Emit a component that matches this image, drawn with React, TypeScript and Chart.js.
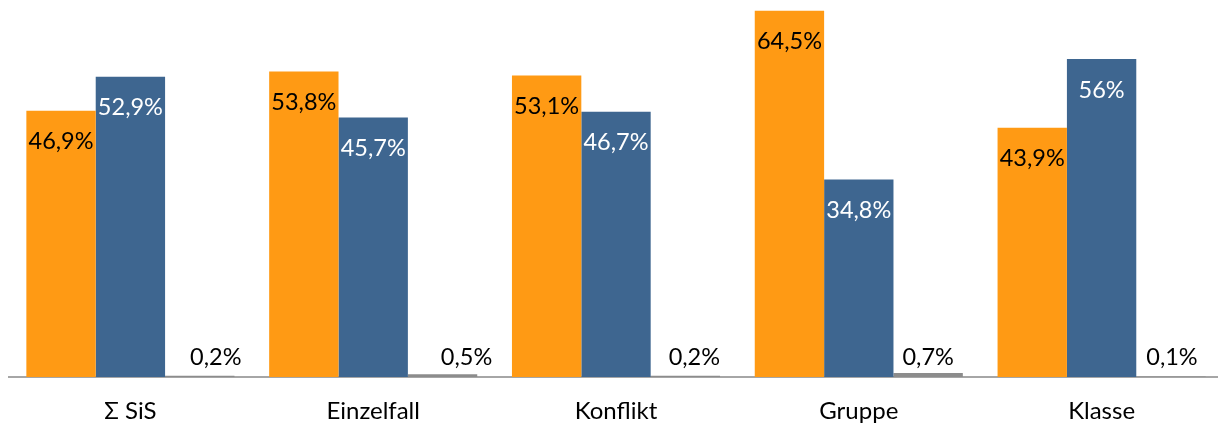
import React, { useEffect, useRef } from "react";
import { Chart, registerables } from "chart.js";

Chart.register(...registerables);

const categories = ["Σ SiS", "Einzelfall", "Konflikt", "Gruppe", "Klasse"];
const seriesA = [46.9, 53.8, 53.1, 64.5, 43.9];
const seriesB = [52.9, 45.7, 46.7, 34.8, 56];
const seriesC = [0.2, 0.5, 0.2, 0.7, 0.1];

// horizontal nudges of the small third-series labels, as placed in the original
const smallLabelNudge = [16, 24, 9, 0, 1];

const FONT = "Lato, 'Open Sans', sans-serif";

const labelPlugin = {
  id: "valueLabels",
  afterDatasetsDraw(chart: any) {
    const ctx = chart.ctx;
    ctx.save();
    ctx.font = `23.5px ${FONT}`;
    ctx.textAlign = "center";
    ctx.textBaseline = "middle";
    chart.data.datasets.forEach((ds: any, di: number) => {
      const meta = chart.getDatasetMeta(di);
      meta.data.forEach((bar: any, i: number) => {
        const v = ds.data[i];
        const txt = String(v).replace(".", ",") + "%";
        if (di === 2) {
          ctx.fillStyle = "#000000";
          ctx.fillText(txt, bar.x + smallLabelNudge[i], bar.base - 20);
        } else {
          ctx.fillStyle = di === 0 ? "#000000" : "#ffffff";
          ctx.fillText(txt, bar.x, bar.y + 31);
        }
      });
    });
    ctx.restore();
  },
};

export default function App() {
  const ref = useRef<HTMLCanvasElement>(null);
  useEffect(() => {
    if (!ref.current) return;
    const chart = new Chart(ref.current, {
      type: "bar",
      data: {
        labels: categories,
        datasets: [
          { data: seriesA, backgroundColor: "#FF9A14", barPercentage: 1, categoryPercentage: 0.857 },
          { data: seriesB, backgroundColor: "#3E6690", barPercentage: 1, categoryPercentage: 0.857 },
          { data: seriesC, backgroundColor: "#8C8C8C", barPercentage: 1, categoryPercentage: 0.857 },
        ],
      },
      options: {
        animation: false,
        responsive: false,
        maintainAspectRatio: false,
        layout: { padding: { left: 9, right: 0, top: 0, bottom: 0 } },
        plugins: { legend: { display: false }, tooltip: { enabled: false } },
        scales: {
          x: {
            grid: { display: false, drawTicks: false, tickLength: 0 },
            border: { display: true, color: "#A6A6A6", width: 2 },
            ticks: { color: "#000000", font: { size: 24, family: FONT }, padding: 20, maxRotation: 0 },
            afterFit: (s: any) => {
              s.height = 46;
            },
          },
          y: {
            display: false,
            min: 0,
            max: 66.4,
          },
        },
      },
      plugins: [labelPlugin],
    });
    return () => chart.destroy();
  }, []);
  return (
    <div style={{ position: "fixed", left: 0, top: 0, width: 1218, height: 423, background: "#fff", overflow: "hidden" }}>
      <canvas ref={ref} width={1223} height={423} style={{ display: "block" }} />
    </div>
  );
}
